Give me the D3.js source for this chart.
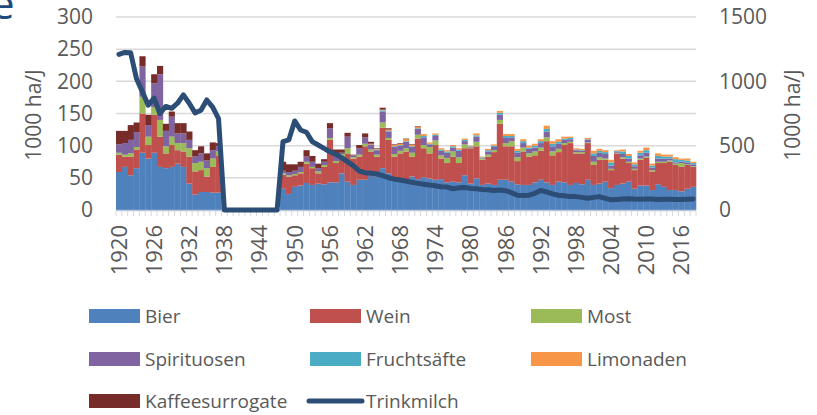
<!DOCTYPE html>
<html lang="de">
<head>
<meta charset="utf-8">
<script src="https://cdn.jsdelivr.net/npm/d3@7"></script>
<style>
    body { margin: 0; background: #fff; }
    svg text { font-family: "Open Sans", sans-serif; fill: #595959; }
</style>
</head>
<body>
<script>
// Kategorien 1920..2018
const years = d3.range(1920, 2019);
const yearLabels = years.filter((y) => (y - 1920) % 6 === 0);

const seriesNames = ["Bier", "Wein", "Most", "Spirituosen", "Fruchtsäfte", "Limonaden", "Kaffeesurrogate"];
const seriesColors = ["#4f81bd", "#c0504d", "#9bbb59", "#8064a2", "#4bacc6", "#f79646", "#772c2a"];
const milkName = "Trinkmilch";

const leftTicks = [0, 50, 100, 150, 200, 250, 300];
const rightTicks = [0, 500, 1000, 1500];

const bier = [59, 67, 54, 65, 89, 80, 89, 67, 65, 67, 72, 67, 41, 24, 28, 28, 27, 27,
    0, 0, 0, 0, 0, 0, 0, 0, 0, 0,
    33, 25, 36, 38, 42, 39, 41, 40, 43, 43, 57, 44, 39, 47, 47,
    54, 52, 65, 57, 47, 47, 47, 52, 48, 51, 49, 47, 48, 43, 44, 43, 54,
    41, 49, 39, 41, 39, 47, 47, 44, 40, 39, 39, 43, 47, 43, 39, 44, 43,
    39, 42, 40, 47, 39, 41, 44, 34, 39, 41, 44, 33, 38, 38, 31, 40, 36, 31, 31, 29, 33, 36];
const wein = [27, 16, 29, 29, 61, 21, 59, 47, 23, 34, 21, 24, 42, 36, 34, 24, 40, 58,
    0, 0, 0, 0, 0, 0, 0, 0, 0, 0,
    22, 27, 18, 19, 30, 26, 16, 27, 66, 30, 24, 43, 41, 36, 52,
    37, 31, 63, 52, 36, 41, 44, 31, 63, 45, 39, 54, 32, 30, 39, 30, 42,
    55, 50, 39, 42, 51, 87, 52, 55, 36, 52, 44, 42, 45, 64, 46, 46, 58,
    65, 46, 48, 57, 31, 37, 34, 28, 49, 39, 29, 29, 40, 43, 29, 33, 37, 44, 39, 38, 37, 31];
const most = [3, 3, 5, 4, 26, 13, 12, 26, 11, 13, 11, 13, 13, 13, 13, 13, 13, 6,
    0, 0, 0, 0, 0, 0, 0, 0, 0, 0,
    2, 2, 2, 2, 3, 2, 3, 3, 3, 3, 6, 9, 2, 3, 4,
    3, 3, 8, 3, 4, 4, 5, 6, 6, 5, 10, 7, 5, 8, 8, 9, 6,
    1, 7, 2, 3, 3, 6, 5, 8, 6, 6, 5, 6, 5, 6, 6, 5, 3,
    2, 2, 2, 1, 5, 4, 2, 2, 1, 2, 2, 2, 2, 2, 2, 2, 2, 2, 2, 6, 1, 1];
const spirituosen = [13, 18, 21, 23, 47, 18, 37, 71, 24, 31, 15, 15, 13, 10, 13, 12, 13, 8,
    0, 0, 0, 0, 0, 0, 0, 0, 0, 0,
    4, 5, 5, 8, 8, 8, 5, 5, 15, 8, 2, 18, 3, 10, 10,
    8, 7, 17, 10, 11, 8, 10, 9, 9, 12, 4, 7, 7, 8, 6, 10, 5,
    1, 8, 1, 5, 5, 8, 8, 6, 7, 7, 7, 6, 7, 9, 8, 8, 5,
    4, 3, 2, 4, 9, 7, 7, 5, 2, 5, 5, 4, 5, 6, 4, 5, 5, 3, 2, 2, 3, 3];
const fruchtsaefte = [0, 0, 0, 0, 0, 0, 0, 0, 0, 0, 0, 0, 0, 0, 0, 0, 0, 0,
    0, 0, 0, 0, 0, 0, 0, 0, 0, 0,
    0, 0, 0, 0, 0, 0, 0, 0, 0, 0, 0, 0, 0, 0, 0,
    0, 1, 2, 1, 1, 1, 1, 1, 1, 2, 1, 2, 2, 2, 2, 2, 2,
    1, 2, 1, 2, 2, 3, 3, 2, 3, 3, 2, 3, 3, 4, 4, 3, 2,
    2, 1, 1, 1, 4, 3, 3, 5, 1, 4, 4, 3, 4, 4, 3, 4, 3, 3, 5, 3, 3, 2];
const limonaden = [0, 0, 0, 0, 0, 0, 0, 0, 0, 0, 0, 0, 0, 0, 0, 0, 0, 0,
    0, 0, 0, 0, 0, 0, 0, 0, 0, 0,
    0, 0, 0, 0, 0, 0, 0, 0, 0, 0, 0, 0, 0, 0, 0,
    1, 1, 1, 2, 2, 2, 3, 2, 2, 3, 2, 2, 2, 2, 2, 2, 2,
    1, 3, 1, 2, 2, 3, 3, 3, 3, 3, 3, 3, 3, 5, 4, 4, 3,
    2, 2, 2, 2, 4, 3, 3, 4, 1, 3, 3, 3, 3, 4, 3, 4, 3, 3, 3, 2, 3, 2];
const kaffeesurrogate = [21, 19, 23, 15, 16, 16, 14, 13, 11, 8, 16, 16, 13, 10, 11, 11, 12, 5,
    0, 0, 0, 0, 0, 0, 0, 0, 0, 0,
    14, 12, 10, 8, 10, 9, 7, 4, 8, 10, 5, 6, 1, 5, 6,
    3, 1, 3, 2, 1, 1, 1, 1, 1, 0, 0, 0, 0, 0, 0, 0, 0,
    0, 0, 0, 0, 0, 0, 0, 0, 0, 0, 0, 0, 0, 0, 0, 0, 0,
    0, 0, 0, 0, 0, 0, 0, 0, 0, 0, 0, 0, 0, 0, 0, 0, 0, 0, 0, 0, 0, 0];
const trinkmilch = [1210, 1225, 1222, 1020, 920, 815, 870, 750, 805, 790, 830, 895, 830, 755, 775, 855, 800, 710,
    0, 0, 0, 0, 0, 0, 0, 0, 0, 0,
    531, 545, 692, 622, 604, 531, 505, 479, 453, 433, 407, 376, 345, 303, 290,
    285, 280, 267, 251, 240, 233, 225, 215, 207, 200, 194, 188, 181, 178, 165, 172, 175,
    168, 165, 160, 158, 152, 155, 150, 135, 115, 112, 115, 130, 152, 140, 125, 115, 110,
    104, 104, 98, 92, 98, 104, 90, 80, 82, 85, 88, 85, 84, 86, 85, 82, 84, 83, 82, 82, 84, 86];

const seriesValues = [bier, wein, most, spirituosen, fruchtsaefte, limonaden, kaffeesurrogate];

// Tabelle für d3.stack
const table = years.map((y, i) => {
    let row = { year: y };
    seriesNames.forEach((n, k) => { row[n] = seriesValues[k][i]; });
    return row;
});

const w = 817, h = 415;
const svg = d3.select("body").append("svg").attr("width", w).attr("height", h);

const x = d3.scaleBand().domain(years).range([116, 696]).padding(0);
const y = d3.scaleLinear().domain([0, 300]).range([210, 17]);
const y2 = d3.scaleLinear().domain([0, 1500]).range([210, 17]);

// cut-off title fragment
svg.append("text").attr("x", -9).attr("y", 19)
    .style("font-size", "42px").style("fill", "#1f497d").text("e");

// gridlines
svg.append("g").selectAll("line").data(leftTicks).enter().append("line")
    .attr("x1", 116).attr("x2", 696)
    .attr("y1", (d) => y(d)).attr("y2", (d) => y(d))
    .attr("stroke", "#d9d9d9").attr("stroke-width", 1.5);

// stacked bars
const stacked = d3.stack().keys(seriesNames)(table);
svg.append("g").selectAll("g").data(stacked).enter().append("g")
    .attr("fill", (d, k) => seriesColors[k])
    .selectAll("rect").data((d) => d).enter().append("rect")
    .attr("x", (d) => x(d.data.year))
    .attr("width", x.bandwidth() + 0.3)
    .attr("y", (d) => y(d[1]))
    .attr("height", (d) => Math.max(0, y(d[0]) - y(d[1])));

// category axis
svg.append("line").attr("x1", 116).attr("x2", 696).attr("y1", 210.5).attr("y2", 210.5)
    .attr("stroke", "#b8c7dc").attr("stroke-width", 1.5);
svg.append("g").selectAll("line").data(years.concat([2019])).enter().append("line")
    .attr("x1", (d) => d === 2019 ? 696 : x(d)).attr("x2", (d) => d === 2019 ? 696 : x(d))
    .attr("y1", 211).attr("y2", 216)
    .attr("stroke", "#d9d9d9").attr("stroke-width", 1);

const xAxis = d3.axisBottom(x).tickValues(yearLabels).tickSize(0).tickPadding(0);
const gx = svg.append("g").attr("transform", "translate(0,210)").call(xAxis);
gx.select(".domain").remove();
gx.selectAll("text")
    .attr("transform", "rotate(-90)")
    .attr("x", -15).attr("y", 0).attr("dy", "0.36em")
    .style("text-anchor", "end").style("font-size", "22px").style("fill", "#595959");

// value axes
const yAxis = d3.axisLeft(y).tickValues(leftTicks).tickSize(0).tickPadding(23);
const gy = svg.append("g").attr("transform", "translate(116,0)").call(yAxis);
gy.select(".domain").remove();
gy.selectAll("text").style("font-size", "21px").style("fill", "#595959");

const y2Axis = d3.axisRight(y2).tickValues(rightTicks).tickFormat(d3.format("d"))
    .tickSize(0).tickPadding(23);
const gy2 = svg.append("g").attr("transform", "translate(696,0)").call(y2Axis);
gy2.select(".domain").remove();
gy2.selectAll("text").style("font-size", "21px").style("fill", "#595959");

svg.append("text").attr("transform", "translate(41,115) rotate(-90)")
    .style("text-anchor", "middle").style("font-size", "21px").text("1000 ha/J");
svg.append("text").attr("transform", "translate(800,115) rotate(-90)")
    .style("text-anchor", "middle").style("font-size", "21px").text("1000 ha/J");

// milk line
const line = d3.line()
    .x((d, i) => x(years[i]) + x.bandwidth() / 2)
    .y((d) => y2(d));
svg.append("path").datum(trinkmilch)
    .attr("d", line)
    .attr("fill", "none").attr("stroke", "#2c4d75").attr("stroke-width", 5)
    .attr("stroke-linejoin", "round").attr("stroke-linecap", "round");

// legend
const legendItems = seriesNames.concat([milkName]);
const colX = [89, 310, 531];
const rowY = [316, 359, 401];
const lg = svg.append("g").selectAll("g").data(legendItems).enter().append("g")
    .attr("transform", (d, i) => "translate(" + colX[i % 3] + "," + rowY[Math.floor(i / 3)] + ")");
lg.each(function (d, i) {
    const g = d3.select(this);
    if (i < seriesNames.length) {
        g.append("rect").attr("x", 0).attr("y", -7).attr("width", 51).attr("height", 14)
            .attr("fill", seriesColors[i]);
    } else {
        g.append("line").attr("x1", -1).attr("x2", 52).attr("y1", 0).attr("y2", 0)
            .attr("stroke", "#2c4d75").attr("stroke-width", 5).attr("stroke-linecap", "round");
    }
    g.append("text").attr("x", 56).attr("y", 0).attr("dy", "0.35em")
        .style("font-size", "19px").text(d);
});
</script>
</body>
</html>
